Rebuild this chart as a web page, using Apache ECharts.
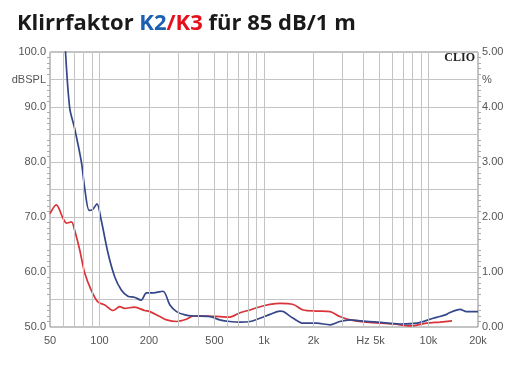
<!DOCTYPE html>
<html>
<head>
<meta charset="utf-8">
<script src="https://cdn.jsdelivr.net/npm/echarts@6/dist/echarts.min.js"></script>
<style>
html,body{margin:0;padding:0;background:#fff;}
#c{width:527px;height:369px;}
</style>
</head>
<body>
<div id="c"></div>
<script>
// K2 (blue) – frequency (Hz) and level (dBSPL)
const k2Freq = [62, 65.9, 70.6, 77.6, 81.3, 86.5, 91, 96.5, 102.3, 112.7, 123.8, 136, 148.8, 163, 179, 193, 212, 243, 268, 294, 331, 372, 470, 538, 620, 715, 822, 946, 1088, 1251, 1310, 1505, 1730, 2090, 2520, 2890, 3330, 3830, 4880, 6700, 8476, 10690, 11740, 12900, 13200, 15540, 17060, 20000];
const k2Val  = [100.5, 89.8, 86.1, 80.0, 75.2, 71.2, 71.4, 72.4, 69.5, 63.4, 59.1, 56.7, 55.6, 55.4, 54.9, 56.2, 56.2, 56.5, 54.0, 52.8, 52.2, 52.0, 51.9, 51.3, 51.0, 50.9, 51.0, 51.6, 52.3, 52.9, 52.8, 51.6, 50.7, 50.7, 50.4, 51.0, 51.3, 51.1, 50.9, 50.55, 50.7, 51.6, 51.9, 52.3, 52.5, 53.2, 52.8, 52.8];

// K3 (red)
const k3Freq = [50, 54.6, 59.9, 62.8, 67.5, 70.6, 75.8, 81.3, 89, 97.5, 107.7, 121, 132.9, 142, 163, 188, 202, 233, 256, 294, 337, 372, 447, 538, 620, 715, 822, 923, 1088, 1251, 1505, 1730, 2090, 2520, 2890, 3330, 4210, 6150, 7770, 9700, 11740, 13900];
const k3Val  = [70.6, 72.2, 69.8, 68.9, 69.1, 67.6, 64.0, 59.8, 56.7, 54.6, 54.0, 53.0, 53.7, 53.4, 53.6, 53.0, 52.8, 51.9, 51.3, 51.0, 51.4, 52.0, 52.0, 51.9, 51.8, 52.6, 53.1, 53.6, 54.1, 54.3, 54.1, 53.1, 52.9, 52.8, 51.9, 51.3, 50.9, 50.55, 50.2, 50.7, 50.9, 51.1];

// axis ticks
const xLabelValues = [50, 100, 200, 500, 1000, 2000, 4000, 5000, 10000, 20000];
const xLabelTexts  = ['50', '100', '200', '500', '1k', '2k', 'Hz', '5k', '10k', '20k'];
const xGridValues  = [60, 70, 80, 90, 100, 200, 300, 400, 500, 600, 700, 800, 900, 1000, 2000, 3000, 4000, 5000, 6000, 7000, 8000, 9000, 10000];

const chart = echarts.init(document.getElementById('c'), null, {renderer: 'canvas'});
const labelFont = {fontFamily: 'Liberation Sans, Arial, sans-serif', fontSize: 11, color: '#555'};

chart.setOption({
  backgroundColor: '#fff',
  animation: false,
  title: {
    left: 12, top: 8,
    text: '{b|Klirrfaktor }{k2|K2}{k3|/K3}{b| für 85 dB/1 m}',
    textStyle: {
      rich: {
        b:  {fontFamily: 'Open Sans', fontWeight: 'bold', fontSize: 22, color: '#1a1a1a'},
        k2: {fontFamily: 'Open Sans', fontWeight: 'bold', fontSize: 22, color: '#1d5fb0'},
        k3: {fontFamily: 'Open Sans', fontWeight: 'bold', fontSize: 22, color: '#e4111c'}
      }
    }
  },
  graphic: [{
    type: 'text', right: 52, top: 52,
    style: {text: 'CLIO', fontFamily: 'Liberation Serif, DejaVu Serif, serif', fontWeight: 'bold', fontSize: 12, fill: '#222'}
  }],
  grid: {left: 50, right: 49, top: 52, bottom: 42, show: true, borderColor: '#888', borderWidth: 1, backgroundColor: 'transparent'},
  xAxis: {
    type: 'log', logBase: 10, min: 50, max: 20000,
    axisLine: {show: false},
    axisTick: {show: false},
    splitLine: {show: false},
    axisLabel: Object.assign({}, labelFont, {
      margin: 8,
      customValues: xLabelValues,
      formatter: function (v) {
        const i = xLabelValues.findIndex(x => Math.abs(x - v) / x < 1e-6);
        return i >= 0 ? xLabelTexts[i] : '';
      }
    })
  },
  yAxis: [{
    type: 'value', min: 50, max: 100, interval: 5,
    axisLine: {show: false},
    axisTick: {show: false},
    minorTick: {show: true, splitNumber: 5, length: 3, lineStyle: {color: '#aaa'}},
    splitLine: {show: true, lineStyle: {color: '#c4c4c4', width: 1}},
    axisLabel: Object.assign({}, labelFont, {
      margin: 4,
      formatter: function (v) {
        if (Math.abs(v - 95) < 1e-6) return 'dBSPL';
        return (Math.round(v) % 10 === 0) ? v.toFixed(1) : '';
      }
    })
  }, {
    type: 'value', min: 0, max: 5, interval: 0.5, position: 'right',
    axisLine: {show: false},
    axisTick: {show: false},
    minorTick: {show: true, splitNumber: 5, length: 3, lineStyle: {color: '#aaa'}},
    splitLine: {show: false},
    axisLabel: Object.assign({}, labelFont, {
      margin: 4,
      formatter: function (v) {
        if (Math.abs(v - 4.5) < 1e-6) return '%';
        return (Math.round(v * 10) % 10 === 0) ? v.toFixed(2) : '';
      }
    })
  }],
  series: [{
    name: 'grid', type: 'line', data: [], silent: true,
    markLine: {
      silent: true, symbol: 'none', label: {show: false},
      lineStyle: {color: '#c4c4c4', width: 1, type: 'solid'},
      data: xGridValues.map(v => ({xAxis: v}))
    }
  }, {
    name: 'K3', type: 'line', smooth: 0.3, showSymbol: false, clip: true,
    lineStyle: {color: '#d8343a', width: 1.7},
    data: k3Freq.map((f, i) => [f, k3Val[i]])
  }, {
    name: 'K2', type: 'line', smooth: 0.3, showSymbol: false, clip: true,
    lineStyle: {color: '#36468a', width: 1.7},
    data: k2Freq.map((f, i) => [f, k2Val[i]])
  }]
});
</script>
</body>
</html>
